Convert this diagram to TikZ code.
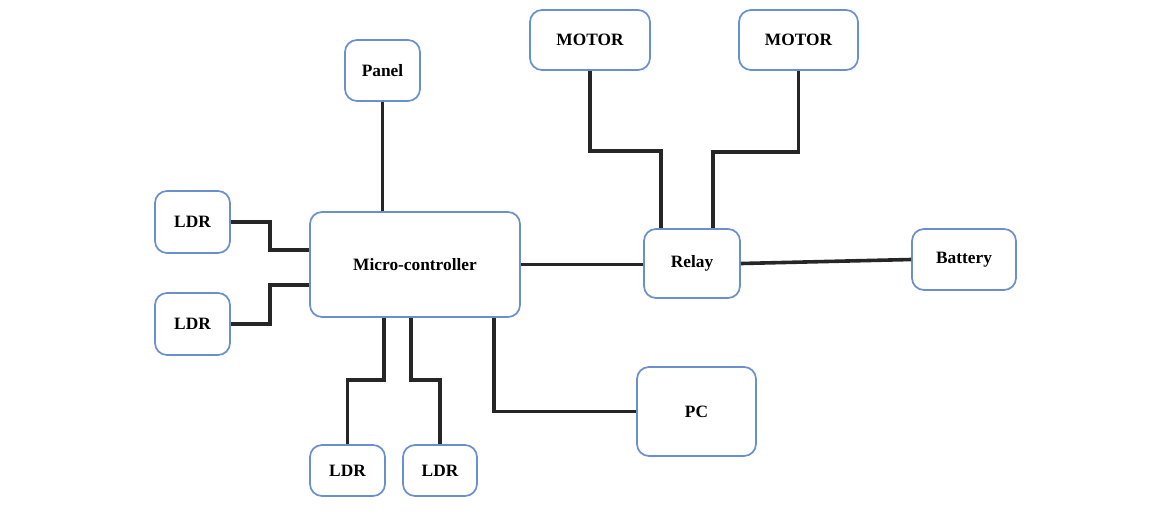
\documentclass[tikz,border=0pt]{standalone}
\usepackage{fontspec}
\setmainfont{Liberation Serif}
\usetikzlibrary{positioning}

\definecolor{boxblue}{HTML}{6A8FCF}
\definecolor{wiregray}{HTML}{262626}

\tikzset{
  blk/.style={draw=boxblue, line width=1.3pt, rounded corners=9pt, fill=white,
    font=\fontsize{13}{15}\selectfont\bfseries, inner sep=0pt},
  wire/.style={draw=wiregray, line width=2.7pt}
}

\begin{document}
\begin{tikzpicture}[x=0.75pt, y=-0.75pt]
  \useasboundingbox (0,0) rectangle (1166,515);

  \node[blk, minimum width=157.5pt, minimum height=78.75pt] (mc) at (415,264.5) {Micro-controller};
  \node[blk, minimum width=56.25pt, minimum height=45.75pt] (pnl) at (382.5,70.5) {Panel};
  \node[blk, minimum width=90pt, minimum height=45pt] (m1) at (590,40) {MOTOR};
  \node[blk, minimum width=89.25pt, minimum height=45pt] (m2) at (798.5,40) {MOTOR};
  \node[blk, minimum width=56.25pt, minimum height=46.5pt] (ldr1) at (192.5,222) {LDR};
  \node[blk, minimum width=56.25pt, minimum height=46.5pt] (ldr2) at (192.5,324) {LDR};
  \node[blk, minimum width=72pt, minimum height=51.75pt] (rly) at (692,263.5) {Relay};
  \node[blk, minimum width=78pt, minimum height=45.75pt] (bat) at (964,259.5) {Battery};
  \node[blk, minimum width=89.25pt, minimum height=66.75pt] (pc) at (696.5,411.5) {PC};
  \node[blk, minimum width=56.25pt, minimum height=38.25pt] (ldr3) at (347.5,470.5) {LDR};
  \node[blk, minimum width=55.5pt, minimum height=38.25pt] (ldr4) at (440,470.5) {LDR};

  \draw[wire] (pnl.south) -- (pnl.south |- mc.north);
  \draw[wire] (ldr1.east) -- ++(39,0) |- (mc.west |- 0,250);
  \draw[wire] (ldr2.east) -- ++(39,0) |- (mc.west |- 0,285);
  \draw[wire] (mc.south -| 384,0) -- ++(0,62) -| (ldr3.north);
  \draw[wire] (mc.south -| 411,0) -- ++(0,62) -| (ldr4.north);
  \draw[wire] (mc.south -| 494,0) |- (pc.west);
  \draw[wire] (mc.east) -- (mc.east -| rly.west);
  \draw[wire] (rly.east) -- (bat.west);
  \draw[wire] (m1.south) -- ++(0,80) -| (rly.north -| 661,0);
  \draw[wire] (m2.south) -- ++(0,81) -| (rly.north -| 713,0);
\end{tikzpicture}
\end{document}
